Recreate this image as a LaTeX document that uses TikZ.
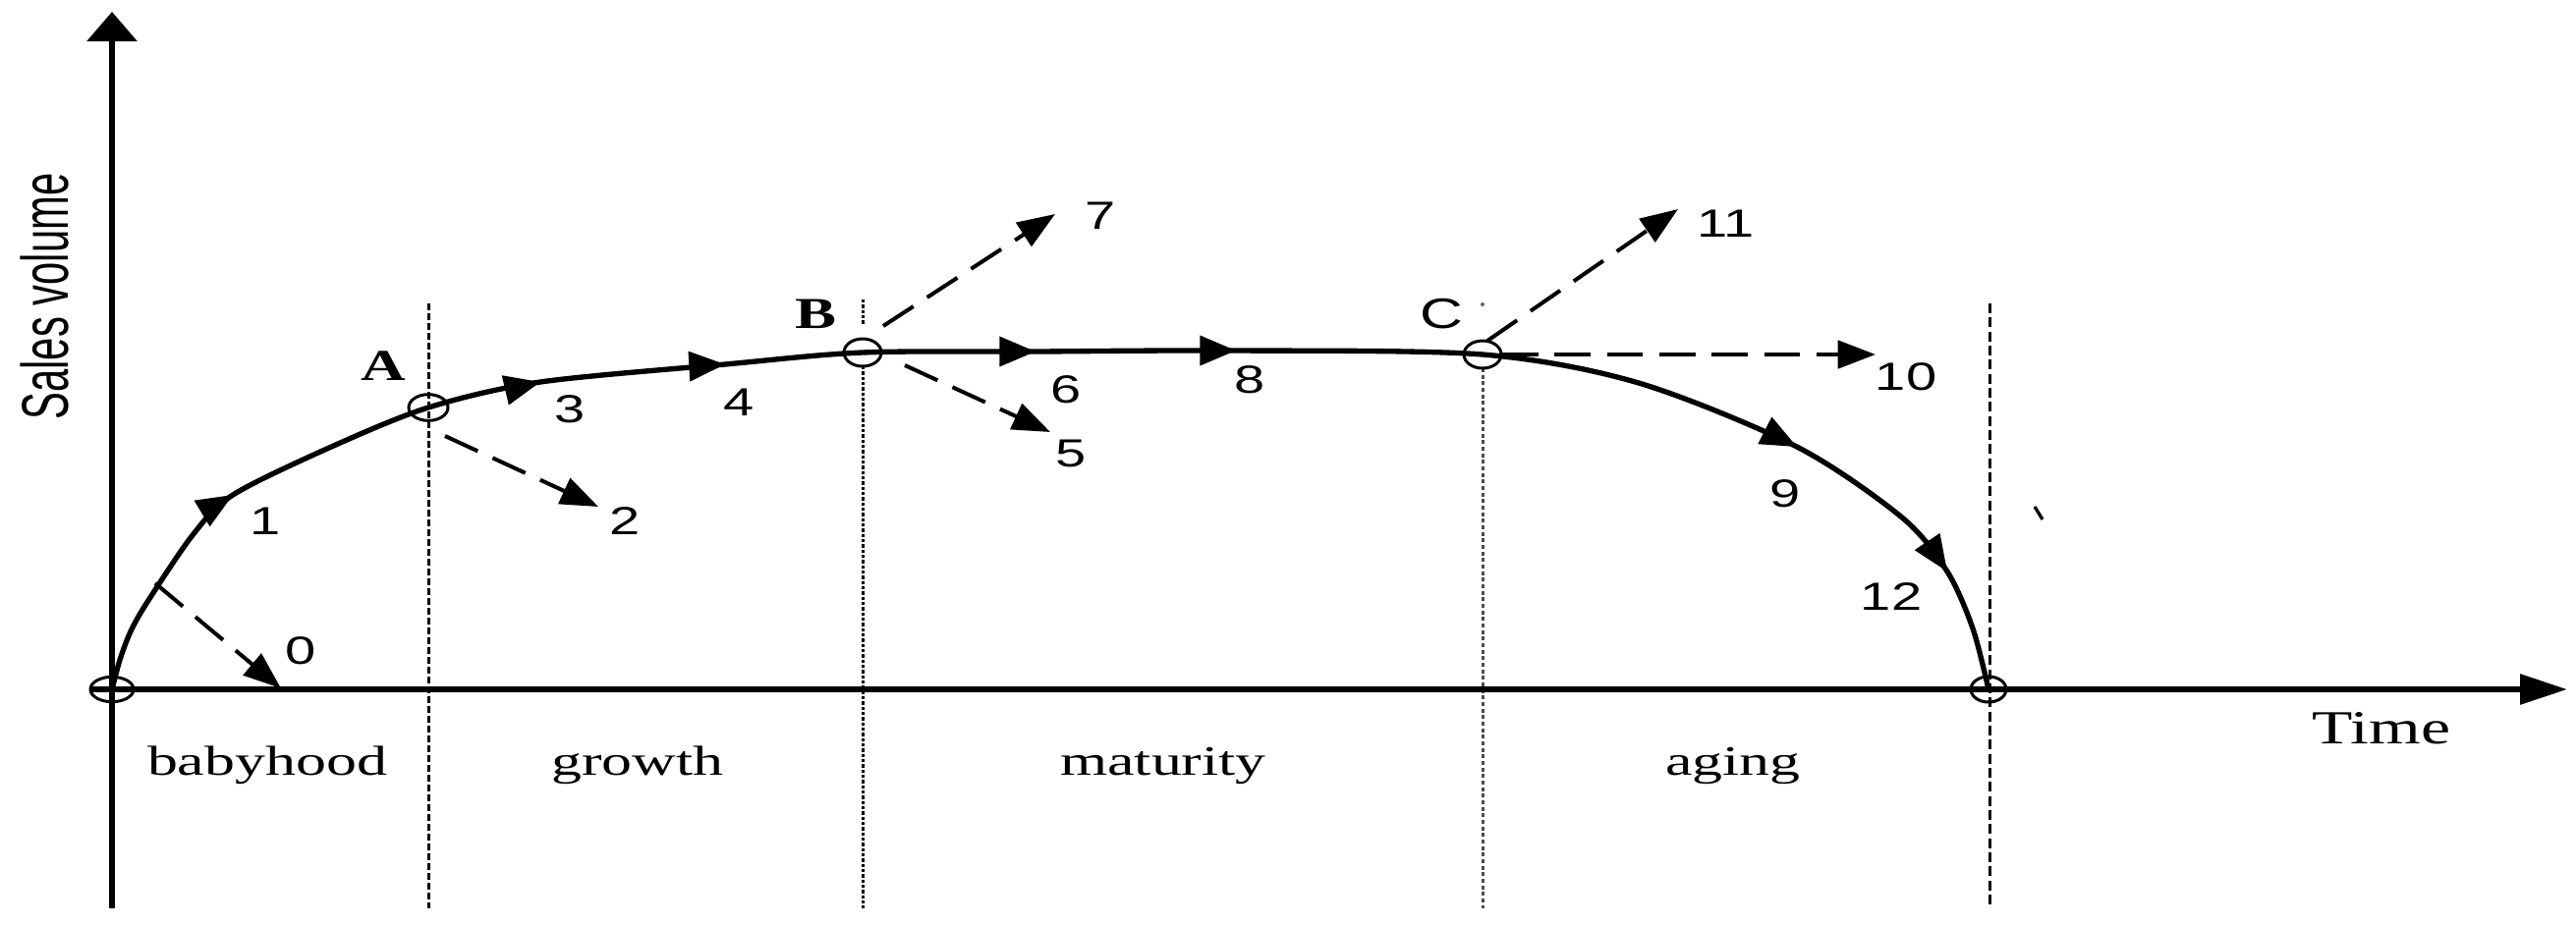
\documentclass[tikz,border=0pt]{standalone}
\usepackage{fontspec}
\setmainfont{Liberation Serif}
\newfontfamily\sansf{Liberation Sans}
\usetikzlibrary{arrows.meta}
\newcommand\hstretch[1]{\scalebox{1.4}[1]{#1}}
\begin{document}
\begin{tikzpicture}[x=0.3pt,y=-0.3pt,
  curve/.style={line width=1.6pt, line join=round},
  axisline/.style={line width=1.8pt},
  dasharrow/.style={line width=1.2pt, dash pattern=on 11pt off 5pt, -{Triangle[length=11.5pt,width=8.5pt]}},
  curvetip/.style={line width=1.2pt, -{Triangle[length=11pt,width=9pt]}},
  ring/.style={line width=0.9pt},
  numlab/.style={inner sep=0pt, font=\sansf\fontsize{12pt}{14pt}\selectfont},
  ptlab/.style={inner sep=0pt, font=\bfseries\fontsize{13.5pt}{15pt}\selectfont},
  stagelab/.style={inner sep=0pt, anchor=base, font=\fontsize{12.8pt}{15pt}\selectfont},
  vline/.style={line width=0.9pt}
]
\useasboundingbox (0,0) rectangle (2622,941);

% named points
\coordinate (O) at (114,702);
\coordinate (A) at (436,415);
\coordinate (B) at (878,359);
\coordinate (C) at (1509,361);
\coordinate (E) at (2024,702);

% vertical phase lines
\draw[vline, dash pattern=on 2pt off 1pt] (436,309) -- (436,925);
\draw[vline, dash pattern=on 1pt off 0.6pt] (878,305) -- (878,330);
\draw[vline, dash pattern=on 1pt off 0.6pt] (878,373) -- (878,925);
\draw[vline, black!70, dash pattern=on 1.2pt off 0.8pt] (1509,375) -- (1509,925);
\fill[black!60] (1509,310) circle (0.6pt);
\draw[vline, dash pattern=on 3pt off 1.3pt] (2025,309) -- (2025,925);

% axes
\coordinate (ybot) at (114,925);
\coordinate (ytop) at (114,12);
\coordinate (xleft) at (92,702);
\coordinate (xright) at (2613,702);
\draw[axisline, -{Triangle[length=9pt,width=15pt]}] (ybot) -- (ytop);
\draw[axisline, -{Triangle[length=14.4pt,width=9pt]}] (xleft) -- (xright);

% life-cycle curve
\draw[curve] plot[smooth, tension=0.5] coordinates {
 (114,702) (122,672) (133,643) (150,613) (196,545) (237,504) (335,456)
 (436,415) (550,389) (738,371) (878,359) (1054,358) (1258,357) (1509,361)
 (1668,390) (1829,455) (1936,527) (1982,582) (2008,640) (2024,702)};

% arrowheads on curve
\draw[curvetip] (207,522.1) -- (237,504);
\draw[curvetip] (515.9,397) -- (550,389);
\draw[curvetip] (703,373) -- (738,371);
\draw[curvetip] (1019,358) -- (1054,358);
\draw[curvetip] (1223,357) -- (1258,357);
\draw[curvetip] (1797.8,439.1) -- (1829,455);
\draw[curvetip] (1962.5,552.9) -- (1982,582);

% circles at key points
\draw[ring] (O) ellipse [x radius=6.6pt, y radius=3.8pt];
\draw[ring] (A) ellipse [x radius=6pt, y radius=4pt];
\draw[ring] (B) ellipse [x radius=5.7pt, y radius=4.2pt];
\draw[ring] (C) ellipse [x radius=5.7pt, y radius=4.2pt];
\draw[ring] (E) ellipse [x radius=5.4pt, y radius=3.9pt];

% dashed branch arrows
\coordinate (s0) at (158,594);  \coordinate (t0) at (286,701);
\coordinate (s2) at (453,444);  \coordinate (t2) at (609,516);
\coordinate (s5) at (921,372);  \coordinate (t5) at (1069,440);
\coordinate (s7) at (899,332);  \coordinate (t7) at (1074,218);
\coordinate (s10) at (1529,361); \coordinate (t10) at (1909,361);
\coordinate (s11) at (1514,347); \coordinate (t11) at (1708,213);
\draw[dasharrow] (s0) -- (t0);
\draw[dasharrow] (s2) -- (t2);
\draw[dasharrow] (s5) -- (t5);
\draw[dasharrow] (s7) -- (t7);
\draw[dasharrow] (s10) -- (t10);
\draw[dasharrow] (s11) -- (t11);

% number labels
\node[numlab] (n0) at (306,663) {\hstretch{0}};
\node[numlab] (n1) at (270,531) {\hstretch{1}};
\node[numlab] (n2) at (636,531) {\hstretch{2}};
\node[numlab] (n3) at (580,417) {\hstretch{3}};
\node[numlab] (n4) at (752,410) {\hstretch{4}};
\node[numlab] (n5) at (1090,462) {\hstretch{5}};
\node[numlab] (n6) at (1085,397) {\hstretch{6}};
\node[numlab] (n7) at (1120,220) {\hstretch{7}};
\node[numlab] (n8) at (1272,387) {\hstretch{8}};
\node[numlab] (n9) at (1817,503) {\hstretch{9}};
\node[numlab] (n10) at (1940,384) {\hstretch{10}};
\node[numlab] (n11) at (1757,228) {\hstretch{11}};
\node[numlab] (n12) at (1925,608) {\hstretch{12}};

% point labels
\node[ptlab] (lA) at (390,373) {\hstretch{A}};
\node[ptlab] (lB) at (830,320) {\hstretch{B}};
\node[inner sep=0pt, font=\sansf\fontsize{13pt}{15pt}\selectfont] (lC) at (1467,320) {\hstretch{C}};

% stage labels
\node[stagelab] (s1) at (272,789) {\scalebox{1.45}[1]{babyhood}};
\node[stagelab] (s2l) at (649,789) {\scalebox{1.45}[1]{growth}};
\node[stagelab] (s3) at (1184,789) {\scalebox{1.45}[1]{maturity}};
\node[stagelab] (s4) at (1764,789) {\scalebox{1.45}[1]{aging}};

% axis titles
\node[inner sep=0pt, anchor=base, font=\fontsize{14.5pt}{16pt}\selectfont] (tx) at (2424,757) {\scalebox{1.4}[1]{Time}};
\node[inner sep=0pt, anchor=base, rotate=90, font=\sansf\fontsize{14.4pt}{16pt}\selectfont] (ty) at (69,302) {\scalebox{0.87}[1.4]{Sales volume}};

% stray tick mark
\draw[line width=1pt] (2071,516) -- (2079,529);
\end{tikzpicture}
\end{document}
